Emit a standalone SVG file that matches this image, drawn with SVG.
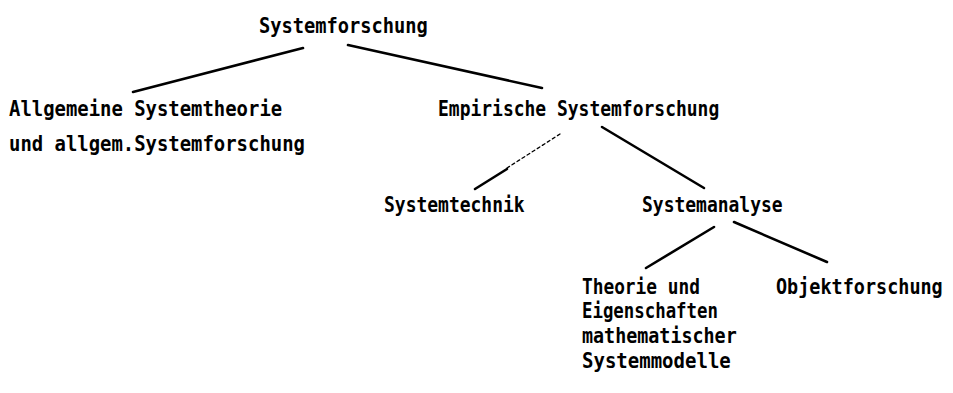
<svg xmlns="http://www.w3.org/2000/svg" width="953" height="393" viewBox="0 0 953 393">
<style>
text{font-family:"DejaVu Sans Mono","Liberation Mono",monospace;font-size:22px;font-weight:bold;fill:#000;}
.c line{stroke:#000;stroke-width:2.6;stroke-linecap:round;}
.c line.d{stroke-width:1.3;stroke-dasharray:3 3;}
</style>
<rect width="953" height="393" fill="#fff"/>
<g class="c" id="connectors">
<line x1="303" y1="48" x2="133" y2="92"/>
<line x1="348" y1="45" x2="542" y2="88"/>
<line class="d" x1="560" y1="134" x2="507" y2="168"/>
<line x1="507" y1="169" x2="475" y2="189"/>
<line x1="602" y1="127" x2="704" y2="188"/>
<line x1="714" y1="227" x2="646" y2="268"/>
<line x1="734" y1="222" x2="827" y2="262"/>
</g>
<g id="n-systemforschung"><text transform="matrix(0.85 0 0 1 259 33)">Systemforschung</text></g>
<g id="n-allgemeine">
<text transform="matrix(0.86 0 0 1 9 116)">Allgemeine Systemtheorie</text>
<text transform="matrix(0.86 0 0 1 9 151)">und allgem.Systemforschung</text>
</g>
<g id="n-empirische"><text transform="matrix(0.817 0 0 1 438 116)">Empirische Systemforschung</text></g>
<g id="n-systemtechnik"><text transform="matrix(0.817 0 0 1 384 212)">Systemtechnik</text></g>
<g id="n-systemanalyse"><text transform="matrix(0.817 0 0 1 642 212)">Systemanalyse</text></g>
<g id="n-theorie">
<text transform="matrix(0.81 0 0 1 582 294)">Theorie und</text>
<text transform="matrix(0.79 0 0 1 582 318)">Eigenschaften</text>
<text transform="matrix(0.835 0 0 1 582 343)">mathematischer</text>
<text transform="matrix(0.865 0 0 1 582 368)">Systemmodelle</text>
</g>
<g id="n-objektforschung"><text transform="matrix(0.84 0 0 1 776 294)">Objektforschung</text></g>
</svg>
